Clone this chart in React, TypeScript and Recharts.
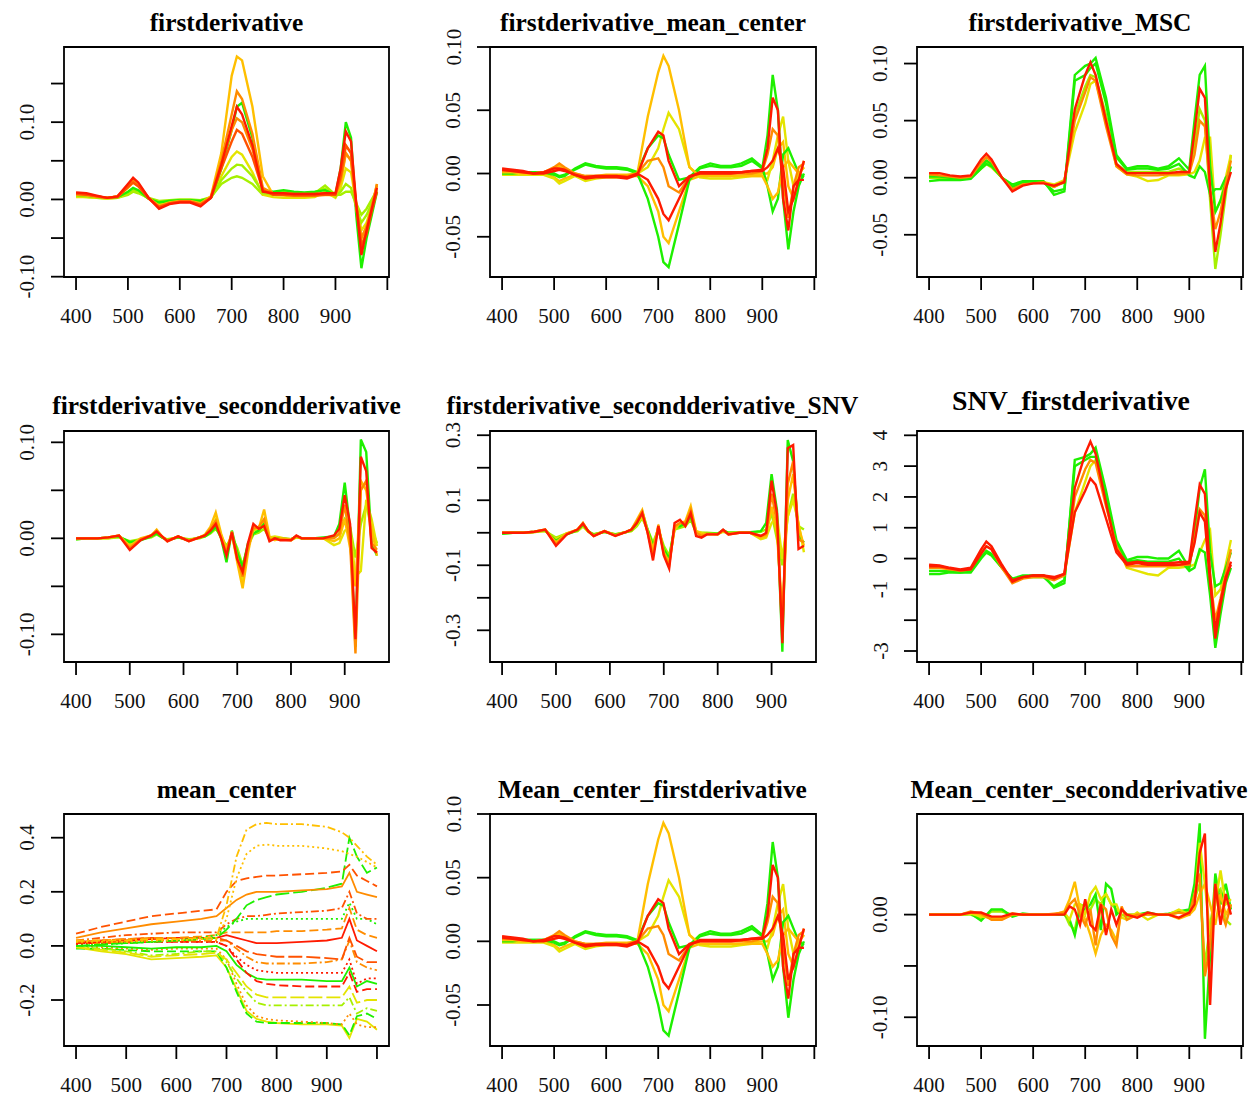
import React from 'react';
import { LineChart, Line, XAxis, YAxis, ReferenceArea } from 'recharts';

// wavelength grids (nm)
const wl1 = [400, 420, 440, 460, 480, 500, 510, 520, 540, 560, 580, 600, 620, 640, 660, 680, 700, 710, 720, 740, 760, 780, 800, 820, 840, 860, 880, 900, 910, 920, 930, 940, 950, 960, 970, 980];
const wl2 = [400, 420, 440, 460, 480, 500, 520, 540, 550, 560, 570, 590, 610, 630, 640, 650, 660, 670, 680, 690, 700, 710, 720, 730, 740, 750, 760, 770, 780, 800, 810, 820, 840, 860, 880, 890, 900, 910, 920, 930, 940, 950, 960];
const wl3 = [400, 450, 500, 550, 600, 650, 680, 700, 720, 740, 760, 780, 800, 850, 900, 930, 945, 960, 980, 1000];
const wl4 = [400, 420, 440, 460, 480, 500, 520, 540, 560, 580, 600, 620, 640, 660, 670, 680, 690, 700, 710, 720, 730, 740, 750, 760, 770, 780, 800, 820, 840, 860, 880, 900, 910, 920, 930, 940, 950, 960, 970, 980];

// firstderivative
const p1Gold = [.006, .005, .003, .002, .004, .015, .022, .017, .002, -.008, -.004, -.002, -.002, -.005, .004, .06, .16, .185, .18, .12, .03, .006, .005, .004, .004, .005, .006, .005, .02, .06, .05, -.01, -.05, -.035, -.01, .02];
const p1Orange = [.008, .007, .004, .002, .004, .018, .026, .02, .002, -.01, -.005, -.003, -.003, -.007, .003, .05, .11, .14, .13, .085, .015, .008, .008, .007, .007, .007, .008, .008, .03, .07, .06, -.01, -.06, -.04, -.01, .02];
const p1OrangeMid = [.008, .007, .004, .002, .004, .017, .024, .019, .002, -.009, -.005, -.003, -.003, -.006, .003, .045, .09, .105, .1, .065, .012, .007, .007, .006, .006, .006, .007, .007, .025, .06, .05, -.008, -.05, -.035, -.01, .018];
const p1Red = [.009, .008, .005, .002, .004, .02, .028, .022, .002, -.012, -.006, -.004, -.004, -.009, .002, .045, .095, .12, .11, .07, .01, .008, .008, .007, .007, .007, .008, .008, .04, .088, .075, -.005, -.072, -.04, -.012, .015];
const p1OrangeRed = [.007, .006, .004, .002, .003, .016, .022, .017, .001, -.01, -.005, -.003, -.003, -.007, .002, .04, .075, .09, .085, .055, .012, .006, .006, .005, .005, .005, .006, .006, .03, .07, .06, -.005, -.06, -.045, -.015, .01];
const p1Green = [.006, .005, .003, .002, .003, .01, .015, .012, .001, -.004, -.002, -.001, -.001, -.002, .002, .04, .09, .12, .125, .08, .012, .01, .012, .01, .009, .01, .012, .006, .04, .1, .08, -.02, -.089, -.05, -.02, .01];
const p1GreenLow = [.005, .004, .003, .002, .003, .008, .012, .01, .001, -.003, -.002, -.001, -.001, -.001, .002, .025, .04, .045, .044, .03, .008, .008, .01, .008, .008, .009, .014, .004, .01, .02, .015, -.01, -.03, -.02, -.005, .01];
const p1Yellow = [.003, .003, .002, .001, .002, .008, .012, .01, .001, -.006, -.003, -.002, -.002, -.003, .002, .03, .055, .062, .058, .035, .006, .003, .002, .002, .002, .003, .01, .002, .015, .04, .035, -.005, -.04, -.03, -.008, .01];
const p1YellowGreen = [.004, .003, .002, .001, .002, .006, .01, .008, .002, -.002, -.001, 0, 0, -.001, .003, .02, .028, .03, .028, .02, .006, .006, .008, .006, .005, .008, .018, .006, .006, .01, .01, -.005, -.02, -.012, 0, .012];

// firstderivative_mean_center (same curves as Mean_center_firstderivative)
const p2Gold = [.001, .001, 0, 0, .001, .004, .006, .004, 0, -.002, -.002, -.001, -.001, -.001, 0, .045, .08, .093, .085, .05, .005, -.002, -.002, -.002, -.002, -.002, -.002, -.002, -.01, -.02, -.015, .005, .01, .005, 0, .005];
const p2Red = [.004, .003, .002, 0, .001, .004, .004, .003, -.001, -.004, -.003, -.003, -.003, -.004, -.001, .02, .033, .03, .01, -.01, -.002, 0, 0, 0, 0, .001, .002, .003, .02, .06, .05, -.02, -.045, -.01, -.005, .01];
const p2DarkRed = [.003, .002, .001, 0, 0, .002, .003, .002, -.001, -.003, -.002, -.002, -.002, -.003, 0, -.005, -.02, -.032, -.037, -.02, -.003, .001, .001, .001, .001, .001, .002, .002, .005, .01, .02, .005, -.03, -.02, -.005, -.005];
const p2Green = [.001, .001, .001, .001, .001, 0, -.002, -.001, .003, .007, .005, .004, .004, .003, 0, -.02, -.05, -.07, -.074, -.04, -.005, .004, .006, .005, .005, .006, .01, .004, .03, .078, .05, -.02, -.06, -.03, -.01, 0];
const p2GreenHigh = [0, 0, .001, .001, .001, -.001, -.003, -.002, .004, .008, .006, .005, .005, .004, .001, .02, .03, .028, .015, -.005, -.003, .005, .008, .006, .006, .008, .012, .005, -.01, -.03, -.02, .015, .02, .01, 0, -.003];
const p2Yellow = [-.001, -.001, -.001, -.001, -.001, -.004, -.008, -.006, -.002, -.006, -.004, -.003, -.003, -.002, 0, .005, .02, .035, .048, .035, .005, -.003, -.004, -.004, -.004, -.003, -.002, -.002, -.005, .01, .03, .045, .01, -.01, 0, .005];
const p2YellowLow = [0, 0, 0, 0, 0, -.003, -.006, -.004, -.001, -.005, -.003, -.002, -.002, -.002, -.002, -.01, -.03, -.05, -.055, -.03, -.005, -.002, -.002, -.002, -.002, -.002, -.001, 0, 0, .005, .02, .025, -.01, -.02, -.005, .01];
const p2Orange = [.002, .002, .001, 0, .001, .005, .008, .005, 0, -.002, -.002, -.002, -.002, -.002, 0, .01, .012, .005, -.01, -.015, -.003, 0, 0, 0, 0, 0, 0, .002, .015, .035, .03, -.005, -.035, -.01, .005, .008];

// firstderivative_MSC
const p3Red = [.004, .004, .002, .001, .002, .016, .021, .016, 0, -.012, -.007, -.005, -.005, -.007, -.004, .06, .09, .101, .09, .05, .012, .004, .004, .004, .004, .004, .005, .005, .04, .078, .07, -.01, -.065, -.04, -.01, .005];
const p3Orange = [.003, .002, .001, 0, .001, .013, .018, .014, 0, -.01, -.006, -.005, -.004, -.008, -.003, .05, .075, .088, .085, .045, .01, .003, .002, .002, .002, .003, .003, .004, .02, .05, .045, -.01, -.045, -.03, -.005, .015];
const p3Green = [.001, .001, 0, 0, .001, .01, .015, .012, 0, -.008, -.004, -.004, -.004, -.012, -.01, .09, .098, .1, .105, .07, .02, .008, .01, .01, .008, .01, .017, .007, .05, .09, .098, .01, -.03, -.02, -.005, .01];
const p3GreenLow = [-.003, -.002, -.002, -.002, -.001, .008, .012, .01, 0, -.006, -.003, -.003, -.003, -.015, -.012, .085, .09, .096, .1, .065, .018, .007, .008, .008, .007, .008, .012, .002, 0, .01, .005, -.015, -.01, -.01, 0, .005];
const p3Yellow = [.001, .001, 0, 0, 0, .008, .012, .009, 0, -.007, -.004, -.004, -.004, -.006, -.002, .04, .065, .082, .085, .05, .01, .003, .001, -.003, -.002, .002, .002, .003, .005, .015, .035, .035, -.03, -.02, 0, .02];
const p3YellowGreen = [0, 0, 0, 0, 0, .01, .014, .011, 0, -.008, -.005, -.004, -.004, -.008, -.004, .055, .08, .09, .088, .055, .012, .005, .005, .005, .005, .005, .008, .004, .03, .06, .05, -.02, -.08, -.05, -.015, .02];

// firstderivative_secondderivative
const p4Red = [0, 0, 0, .001, .003, -.012, -.002, .003, .007, .002, -.003, .002, -.003, .001, .003, .008, .015, 0, -.018, .006, -.022, -.035, -.005, .015, .01, .013, -.003, 0, -.002, -.002, .003, 0, 0, 0, .003, .01, .045, .015, -.105, .085, .07, -.01, -.015];
const p4Orange = [0, 0, 0, .001, .003, -.01, -.001, .003, .008, .002, -.003, .002, -.003, .001, .003, .01, .018, 0, -.015, .007, -.02, -.04, -.01, .01, .012, .02, -.002, 0, -.001, -.002, .002, 0, 0, 0, 0, .005, .035, -.005, -.12, .05, .06, -.005, -.012];
const p4Gold = [0, 0, 0, .001, .003, -.008, 0, .003, .009, .002, -.002, .002, -.002, .001, .004, .012, .027, .005, -.012, .005, -.025, -.052, -.015, .012, .01, .03, .002, -.002, 0, -.001, .002, 0, 0, 0, -.003, 0, .02, -.01, -.05, .06, .05, .01, -.018];
const p4Green = [-.001, 0, 0, .001, .002, -.004, -.002, .002, .005, .001, -.002, .001, -.002, .001, .002, .006, .012, 0, -.025, .008, -.015, -.03, -.005, .005, .008, .015, 0, 0, 0, -.001, .002, 0, 0, .001, .002, .015, .058, .01, -.113, .103, .09, -.005, -.018];
const p4Yellow = [0, 0, 0, 0, .002, -.006, -.001, .002, .006, .001, -.002, .001, -.002, .001, .003, .008, .02, .003, -.012, .004, -.022, -.045, -.01, .008, .01, .018, .001, .002, .001, -.002, .001, 0, 0, 0, -.007, -.005, .008, .01, -.04, -.034, .04, .02, -.008];
const p4YellowGreen = [-.001, 0, 0, 0, .001, -.003, -.001, .001, .004, .001, -.001, .001, -.001, 0, .002, .005, .01, .002, -.008, .002, -.01, -.028, -.008, .004, .006, .01, 0, 0, 0, -.001, .001, 0, 0, 0, .001, .005, .02, .012, -.02, .015, .035, .01, -.005];

// firstderivative_secondderivative_SNV
const p5Red = [0, 0, 0, .003, .01, -.04, -.005, .01, .028, .005, -.01, .005, -.01, .003, .01, .03, .06, 0, -.085, .02, -.07, -.11, .03, .04, .02, .06, -.01, -.015, -.005, -.005, .01, -.005, 0, 0, -.01, 0, .16, .06, -.34, .26, .27, -.05, -.04];
const p5Orange = [0, 0, 0, .003, .01, -.035, -.003, .01, .03, .004, -.01, .005, -.008, .003, .01, .035, .065, 0, -.07, .025, -.065, -.1, .02, .03, .03, .07, 0, -.01, -.005, -.005, .008, -.005, 0, 0, -.01, -.005, .12, .03, -.3, .15, .22, -.02, -.03];
const p5Gold = [0, 0, 0, .003, .01, -.03, -.002, .01, .03, .004, -.008, .005, -.008, .003, .01, .04, .07, .005, -.05, .02, -.06, -.09, .01, .03, .035, .082, .005, -.005, -.003, -.005, .005, -.003, 0, 0, -.015, -.01, .08, 0, -.25, .1, .18, .02, -.04];
const p5Green = [-.003, 0, 0, .003, .008, -.025, -.005, .008, .025, .005, -.006, .003, -.006, .002, .008, .03, .065, .01, -.04, .01, -.05, -.08, .02, .02, .03, .05, 0, -.005, -.003, -.003, .008, 0, 0, .002, .005, .03, .18, .07, -.366, .285, .22, -.01, -.03];
const p5Yellow = [0, 0, 0, .002, .006, -.02, -.002, .006, .02, .003, -.005, .003, -.005, .002, .006, .025, .05, .005, -.04, .015, -.05, -.09, .015, .025, .03, .06, .005, 0, -.002, -.005, .005, 0, 0, 0, -.02, -.015, .03, .05, -.08, .05, .1, .03, -.06];
const p5YellowGreen = [-.002, 0, 0, .002, .005, -.015, -.002, .005, .02, .003, -.004, .003, -.004, .002, .005, .02, .045, .01, -.03, .01, -.04, -.07, .01, .015, .02, .04, 0, 0, 0, -.002, .003, 0, 0, 0, .003, .01, .06, -.02, -.1, .05, .12, .02, .01];

// SNV_firstderivative
const p6Red = [-.2, -.22, -.3, -.35, -.3, .3, .55, .4, -.2, -.75, -.6, -.55, -.55, -.65, -.5, 2.3, 3.4, 3.8, 3.4, 1.8, .3, -.15, -.1, -.15, -.15, -.15, -.12, -.1, 1.2, 2.4, 2.1, -.5, -2.6, -1.5, -.7, -.1];
const p6RedLow = [-.25, -.25, -.32, -.38, -.35, .15, .4, .3, -.25, -.7, -.6, -.55, -.55, -.6, -.5, 1.5, 2.2, 2.6, 2.4, 1.3, .2, -.2, -.15, -.2, -.2, -.2, -.2, -.15, .5, 1.5, 1.2, -.8, -2.3, -1.4, -.6, -.2];
const p6Orange = [-.3, -.3, -.35, -.4, -.35, .2, .4, .3, -.3, -.8, -.65, -.6, -.6, -.7, -.55, 2.0, 2.9, 3.2, 3.1, 1.7, .4, -.25, -.25, -.25, -.25, -.25, -.22, -.2, .6, 1.6, 1.4, -.6, -2.0, -1.3, -.5, .3];
const p6Green = [-.4, -.4, -.42, -.45, -.4, .05, .25, .15, -.3, -.65, -.55, -.55, -.55, -.95, -.8, 3.2, 3.3, 3.4, 3.6, 2.2, .6, -.05, .05, .05, 0, 0, .25, -.3, .8, 2.3, 2.9, .2, -.9, -.8, -.3, .2];
const p6GreenLow = [-.5, -.5, -.45, -.45, -.45, 0, .2, .1, -.3, -.7, -.6, -.6, -.6, -.9, -.7, 3.0, 3.2, 3.3, 3.3, 2.0, .5, -.1, -.05, -.1, -.1, -.1, 0, -.4, -.3, .3, .2, -1.2, -2.9, -1.8, -.8, -.3];
const p6Yellow = [-.4, -.4, -.4, -.42, -.4, .05, .2, .1, -.3, -.7, -.6, -.6, -.6, -.65, -.55, 1.5, 2.5, 3.0, 3.2, 1.9, .5, -.3, -.4, -.5, -.55, -.3, -.3, -.25, -.2, .2, .6, .9, -1.2, -1.0, -.2, .6];

// mean_center
const p7GoldTop = [.02, .02, .02, .025, .025, .03, .03, .15, .33, .43, .45, .455, .45, .45, .44, .42, .4, .37, .33, .3];
const p7GoldMid = [.015, .015, .015, .02, .02, .025, .025, .1, .25, .34, .37, .375, .37, .37, .36, .35, .34, .33, .31, .29];
const p7RedTop = [.045, .07, .09, .11, .12, .13, .135, .2, .24, .25, .255, .26, .26, .265, .27, .275, .3, .26, .24, .22];
const p7Orange = [.03, .05, .065, .08, .09, .1, .11, .14, .17, .19, .2, .2, .2, .205, .21, .22, .27, .2, .19, .18];
const p7GreenTop = [0, .005, .01, .015, .02, .025, .03, .06, .1, .15, .17, .18, .19, .2, .215, .23, .4, .33, .27, .29];
const p7Red = [.02, .03, .04, .045, .05, .05, .05, .08, .1, .11, .11, .115, .12, .125, .13, .14, .2, .12, .1, .1];
const p7GreenMid = [0, .005, .01, .015, .02, .03, .04, .07, .09, .1, .1, .1, .1, .1, .1, .1, .16, .1, .1, .08];
const p7OrangeMid = [.015, .02, .025, .03, .03, .035, .04, .05, .05, .05, .05, .05, .055, .055, .06, .065, .14, .06, .04, .03];
const p7RedMid = [.01, .015, .02, .025, .03, .03, .03, .04, .03, .02, .01, .01, .01, .015, .02, .03, .1, .02, 0, -.02];
const p7RedLow = [.015, .02, .025, .03, .03, .03, .03, .02, 0, -.02, -.03, -.035, -.04, -.04, -.045, -.05, .03, -.04, -.06, -.06];
const p7OrangeLow = [.01, .01, .015, .02, .02, .02, .02, .02, -.01, -.04, -.06, -.065, -.065, -.065, -.06, -.05, .02, -.06, -.08, -.09];
const p7RedDeep = [.005, .01, .012, .015, .015, .015, .015, 0, -.04, -.07, -.09, -.095, -.1, -.1, -.1, -.1, -.05, -.14, -.12, -.12];
const p7RedB = [.01, .01, .012, .015, .015, .015, .015, 0, -.05, -.1, -.13, -.14, -.145, -.15, -.15, -.15, -.1, -.17, -.16, -.16];
const p7GreenLow = [0, 0, -.005, -.01, -.005, -.005, 0, -.02, -.07, -.1, -.12, -.125, -.125, -.125, -.13, -.13, -.08, -.15, -.13, -.14];
const p7Yellow = [-.005, -.015, -.025, -.04, -.035, -.03, -.025, -.05, -.1, -.15, -.18, -.19, -.19, -.19, -.19, -.19, -.15, -.21, -.2, -.2];
const p7YellowGreen = [-.005, -.01, -.02, -.035, -.03, -.02, -.02, -.06, -.12, -.17, -.21, -.22, -.22, -.22, -.22, -.22, -.19, -.25, -.23, -.24];
const p7OrangeBottom = [0, -.005, -.01, -.015, -.01, -.01, -.01, -.05, -.14, -.22, -.26, -.27, -.275, -.28, -.285, -.29, -.25, -.29, -.3, -.3];
const p7GreenBottom = [-.01, -.01, -.015, -.02, -.02, -.02, -.02, -.08, -.17, -.25, -.28, -.285, -.285, -.285, -.285, -.29, -.33, -.26, -.25, -.27];
const p7YellowBottom = [-.005, -.02, -.03, -.05, -.045, -.04, -.035, -.08, -.16, -.24, -.27, -.28, -.285, -.29, -.29, -.295, -.34, -.27, -.28, -.31];

// Mean_center_secondderivative
const p9Green = [0, 0, 0, 0, .001, -.006, .005, .005, -.002, .001, 0, 0, 0, 0, -.005, -.02, .005, .005, .01, .02, -.015, .03, .025, 0, .005, 0, 0, .002, 0, .001, .003, .005, .03, .089, -.121, -.04, .04, .01, .03, .005];
const p9Red = [0, 0, 0, 0, .002, .002, -.002, -.002, .001, 0, 0, 0, 0, 0, .008, .005, -.01, .015, -.01, -.015, .01, -.02, .005, -.01, .005, 0, -.003, .002, 0, 0, -.003, .002, .01, .06, .079, -.088, .03, -.01, .02, 0];
const p9Orange = [0, 0, 0, 0, .003, .001, -.005, -.005, 0, 0, 0, 0, .001, .002, .01, .015, 0, -.01, .005, -.03, .01, .005, -.02, -.03, .008, -.005, 0, 0, 0, 0, .002, 0, .02, .04, -.06, -.03, .03, .005, -.01, .01];
const p9Gold = [0, 0, 0, 0, .002, 0, -.004, -.004, 0, 0, 0, 0, 0, .003, .015, .032, .005, -.005, -.02, -.038, -.02, -.01, -.015, -.025, .005, 0, 0, 0, 0, 0, -.004, 0, .005, .02, .03, .01, -.01, .02, 0, .01];
const p9Yellow = [0, 0, 0, 0, .001, -.002, -.003, -.003, .001, 0, 0, 0, 0, .002, -.005, .01, .01, 0, .02, .027, .015, .02, .01, .01, -.003, -.005, .002, -.005, 0, 0, .005, 0, .01, .07, .03, -.02, .01, .043, .01, .015];
const p9YellowGreen = [0, 0, 0, 0, 0, -.004, .003, .003, 0, 0, 0, 0, 0, .001, -.01, -.015, .01, .008, .005, .015, .01, .02, .01, .005, 0, -.002, 0, .001, 0, 0, .002, .003, .015, .03, -.05, -.01, .02, .025, -.005, -.01];

// axis ticks
const xTicksFull = [400, 500, 600, 700, 800, 900, 1000];
const xTicksShort = [400, 500, 600, 700, 800, 900];
const xLabels = ['400', '500', '600', '700', '800', '900', ''];

const RED = '#ff1a00';
const ORANGE_RED = '#ff5200';
const ORANGE = '#ff8c00';
const GOLD = '#ffbf00';
const YELLOW = '#e4e400';
const YELLOW_GREEN = '#a6f000';
const GREEN = '#1ef000';

const FONT = '"Liberation Serif", "Times New Roman", serif';

type Series = { values: number[]; color: string; dash?: string };

type PanelCfg = {
  title: string;
  titleSize: number;
  titleX: number;
  titleY: number;
  left: number;
  top: number;
  width: number;
  height: number;
  xs: number[];
  series: Series[];
  xDomain: [number, number];
  xTicks: number[];
  yDomain: [number, number];
  yTicks: number[];
  yLabels: string[];
  lineWidth: number;
};

const ML = 60;
const MR = 12;
const MT = 36;
const MB = 60;

const DASHES = [undefined, '9 4', '2 3', '8 3 2 3', '14 4'];

const renderXTick = (props: any) => {
  const { x, y, payload } = props;
  const i = xTicksFull.indexOf(payload.value);
  return (
    <text x={x} y={y + 33} textAnchor="middle" fontFamily={FONT} fontSize={21} fill="#111">
      {xLabels[i]}
    </text>
  );
};

function Panel({ cfg }: { cfg: PanelCfg }) {
  const rows = cfg.xs.map((x, i) => {
    const row: Record<string, number> = { x };
    cfg.series.forEach((s, k) => {
      row['s' + k] = s.values[i];
    });
    return row;
  });

  const renderYTick = (props: any) => {
    const { x, y, payload } = props;
    const i = cfg.yTicks.indexOf(payload.value);
    const tx = x - 16.5;
    return (
      <text
        x={tx}
        y={y}
        transform={`rotate(-90 ${tx} ${y})`}
        textAnchor="middle"
        fontFamily={FONT}
        fontSize={21}
        fill="#111"
      >
        {cfg.yLabels[i]}
      </text>
    );
  };

  return (
    <div style={{ position: 'absolute', left: cfg.left - ML, top: cfg.top - MT }}>
      <LineChart
        width={cfg.width + ML + MR}
        height={cfg.height + MT + MB}
        data={rows}
        margin={{ top: MT, right: MR, bottom: 0, left: 0 }}
      >
        <XAxis
          type="number"
          dataKey="x"
          domain={cfg.xDomain}
          ticks={cfg.xTicks}
          allowDataOverflow
          interval={0}
          height={MB}
          axisLine={false}
          stroke="#000"
          tickSize={13}
          tickMargin={0}
          tickLine={{ stroke: '#000', strokeWidth: 1.8 }}
          tick={renderXTick}
        />
        <YAxis
          type="number"
          domain={cfg.yDomain}
          ticks={cfg.yTicks}
          allowDataOverflow
          interval={0}
          width={ML}
          axisLine={false}
          stroke="#000"
          tickSize={13}
          tickMargin={0}
          tickLine={{ stroke: '#000', strokeWidth: 1.8 }}
          tick={renderYTick}
        />
        {cfg.series.map((s, k) => (
          <Line
            key={k}
            dataKey={'s' + k}
            type="linear"
            stroke={s.color}
            strokeWidth={cfg.lineWidth}
            strokeDasharray={s.dash}
            dot={false}
            activeDot={false}
            isAnimationActive={false}
          />
        ))}
        <ReferenceArea
          x1={cfg.xDomain[0]}
          x2={cfg.xDomain[1]}
          y1={cfg.yDomain[0]}
          y2={cfg.yDomain[1]}
          fill="none"
          fillOpacity={0}
          stroke="#000"
          strokeWidth={1.8}
        />
      </LineChart>
    </div>
  );
}

const fdSeries2: Series[] = [
  { values: p2YellowLow, color: GOLD },
  { values: p2Yellow, color: YELLOW },
  { values: p2Green, color: GREEN },
  { values: p2GreenHigh, color: GREEN },
  { values: p2Gold, color: GOLD },
  { values: p2Orange, color: ORANGE },
  { values: p2DarkRed, color: RED },
  { values: p2Red, color: RED },
];

const col = [64, 490, 917];
const colW = [325, 326, 326];
const rowTop = [47, 431, 814];
const rowH = [230, 231, 232];
const xFull: [number, number] = [376.8, 1003.2];

const panels: PanelCfg[] = [
  {
    title: 'firstderivative', titleSize: 25.4, titleX: 226.5, titleY: 30.5,
    left: col[0], top: rowTop[0], width: colW[0], height: rowH[0],
    xs: wl1,
    series: [
      { values: p1YellowGreen, color: YELLOW_GREEN },
      { values: p1Yellow, color: YELLOW },
      { values: p1GreenLow, color: YELLOW_GREEN },
      { values: p1Green, color: GREEN },
      { values: p1Gold, color: GOLD },
      { values: p1Orange, color: ORANGE },
      { values: p1OrangeMid, color: ORANGE },
      { values: p1OrangeRed, color: ORANGE_RED },
      { values: p1Red, color: RED },
    ],
    xDomain: xFull, xTicks: xTicksFull,
    yDomain: [-0.1004, 0.1973], yTicks: [-0.1, -0.05, 0, 0.05, 0.1, 0.15],
    yLabels: ['-0.10', '', '0.00', '', '0.10', ''],
    lineWidth: 2.4,
  },
  {
    title: 'firstderivative_mean_center', titleSize: 25.4, titleX: 653, titleY: 30.5,
    left: col[1], top: rowTop[0], width: colW[1], height: rowH[0],
    xs: wl1, series: fdSeries2,
    xDomain: xFull, xTicks: xTicksFull,
    yDomain: [-0.0818, 0.1], yTicks: [-0.05, 0, 0.05, 0.1],
    yLabels: ['-0.05', '0.00', '0.05', '0.10'],
    lineWidth: 2.4,
  },
  {
    title: 'firstderivative_MSC', titleSize: 25.4, titleX: 1080, titleY: 30.5,
    left: col[2], top: rowTop[0], width: colW[2], height: rowH[0],
    xs: wl1,
    series: [
      { values: p3YellowGreen, color: YELLOW_GREEN },
      { values: p3Yellow, color: YELLOW },
      { values: p3GreenLow, color: GREEN },
      { values: p3Green, color: GREEN },
      { values: p3Orange, color: ORANGE },
      { values: p3Red, color: RED },
    ],
    xDomain: xFull, xTicks: xTicksFull,
    yDomain: [-0.087, 0.1145], yTicks: [-0.05, 0, 0.05, 0.1],
    yLabels: ['-0.05', '0.00', '0.05', '0.10'],
    lineWidth: 2.4,
  },
  {
    title: 'firstderivative_secondderivative', titleSize: 25.4, titleX: 226.5, titleY: 413.5,
    left: col[0], top: rowTop[1], width: colW[0], height: rowH[1],
    xs: wl2,
    series: [
      { values: p4YellowGreen, color: YELLOW_GREEN },
      { values: p4Yellow, color: YELLOW },
      { values: p4Green, color: GREEN },
      { values: p4Gold, color: GOLD },
      { values: p4Orange, color: ORANGE },
      { values: p4Red, color: RED },
    ],
    xDomain: [377.6, 982.4], xTicks: xTicksShort,
    yDomain: [-0.1288, 0.1118], yTicks: [-0.1, -0.05, 0, 0.05, 0.1],
    yLabels: ['-0.10', '', '0.00', '', '0.10'],
    lineWidth: 2.4,
  },
  {
    title: 'firstderivative_secondderivative_SNV', titleSize: 25.4, titleX: 652.5, titleY: 413.5,
    left: col[1], top: rowTop[1], width: colW[1], height: rowH[1],
    xs: wl2,
    series: [
      { values: p5YellowGreen, color: YELLOW_GREEN },
      { values: p5Yellow, color: YELLOW },
      { values: p5Green, color: GREEN },
      { values: p5Gold, color: GOLD },
      { values: p5Orange, color: ORANGE },
      { values: p5Red, color: RED },
    ],
    xDomain: [377.6, 982.4], xTicks: xTicksShort,
    yDomain: [-0.3975, 0.313], yTicks: [-0.3, -0.2, -0.1, 0, 0.1, 0.2, 0.3],
    yLabels: ['-0.3', '', '-0.1', '', '0.1', '', '0.3'],
    lineWidth: 2.4,
  },
  {
    title: 'SNV_firstderivative', titleSize: 27.8, titleX: 1071, titleY: 409.5,
    left: col[2], top: rowTop[1], width: colW[2], height: rowH[1],
    xs: wl1,
    series: [
      { values: p6Yellow, color: YELLOW },
      { values: p6GreenLow, color: GREEN },
      { values: p6Green, color: GREEN },
      { values: p6Orange, color: ORANGE },
      { values: p6RedLow, color: RED },
      { values: p6Red, color: RED },
    ],
    xDomain: xFull, xTicks: xTicksFull,
    yDomain: [-3.357, 4.14], yTicks: [-3, -2, -1, 0, 1, 2, 3, 4],
    yLabels: ['-3', '', '-1', '0', '1', '2', '3', '4'],
    lineWidth: 2.4,
  },
  {
    title: 'mean_center', titleSize: 25.4, titleX: 226.5, titleY: 797.5,
    left: col[0], top: rowTop[2], width: colW[0], height: rowH[2],
    xs: wl3,
    series: [
      p7YellowBottom, p7GreenBottom, p7OrangeBottom, p7YellowGreen, p7Yellow, p7GreenLow,
      p7RedB, p7RedDeep, p7OrangeLow, p7RedLow, p7RedMid, p7OrangeMid, p7GreenMid, p7Red,
      p7GreenTop, p7Orange, p7RedTop, p7GoldMid, p7GoldTop,
    ].map((values, k) => ({
      values,
      color: [YELLOW, GREEN, ORANGE, YELLOW_GREEN, YELLOW, GREEN, RED, RED, ORANGE, ORANGE_RED,
        RED, ORANGE, GREEN, ORANGE_RED, GREEN, ORANGE, ORANGE_RED, GOLD, GOLD][k],
      dash: DASHES[k % DASHES.length],
    })),
    xDomain: [376, 1024], xTicks: xTicksFull,
    yDomain: [-0.37, 0.4876], yTicks: [-0.2, 0, 0.2, 0.4],
    yLabels: ['-0.2', '0.0', '0.2', '0.4'],
    lineWidth: 1.8,
  },
  {
    title: 'Mean_center_firstderivative', titleSize: 25.4, titleX: 652.5, titleY: 797.5,
    left: col[1], top: rowTop[2], width: colW[1], height: rowH[2],
    xs: wl1, series: fdSeries2,
    xDomain: xFull, xTicks: xTicksFull,
    yDomain: [-0.0822, 0.1], yTicks: [-0.05, 0, 0.05, 0.1],
    yLabels: ['-0.05', '0.00', '0.05', '0.10'],
    lineWidth: 2.4,
  },
  {
    title: 'Mean_center_secondderivative', titleSize: 25.4, titleX: 1079, titleY: 797.5,
    left: col[2], top: rowTop[2], width: colW[2], height: rowH[2],
    xs: wl4,
    series: [
      { values: p9YellowGreen, color: YELLOW_GREEN },
      { values: p9Green, color: GREEN },
      { values: p9Yellow, color: YELLOW },
      { values: p9Gold, color: GOLD },
      { values: p9Orange, color: ORANGE },
      { values: p9Red, color: RED },
    ],
    xDomain: xFull, xTicks: xTicksFull,
    yDomain: [-0.128, 0.098], yTicks: [-0.1, -0.05, 0, 0.05],
    yLabels: ['-0.10', '', '0.00', ''],
    lineWidth: 2.4,
  },
];

export default function App() {
  return (
    <div style={{ position: 'relative', width: 1256, height: 1103, background: '#fff', overflow: 'hidden' }}>
      <style>{'body{margin:0;background:#fff}'}</style>
      {panels.map((p, i) => (
        <Panel key={i} cfg={p} />
      ))}
      <svg width={1256} height={1103} style={{ position: 'absolute', left: 0, top: 0, pointerEvents: 'none' }}>
        {panels.map((p, i) => (
          <text
            key={i}
            x={p.titleX}
            y={p.titleY}
            textAnchor="middle"
            fontFamily={FONT}
            fontWeight="bold"
            fontSize={p.titleSize}
            fill="#000"
          >
            {p.title}
          </text>
        ))}
      </svg>
    </div>
  );
}
